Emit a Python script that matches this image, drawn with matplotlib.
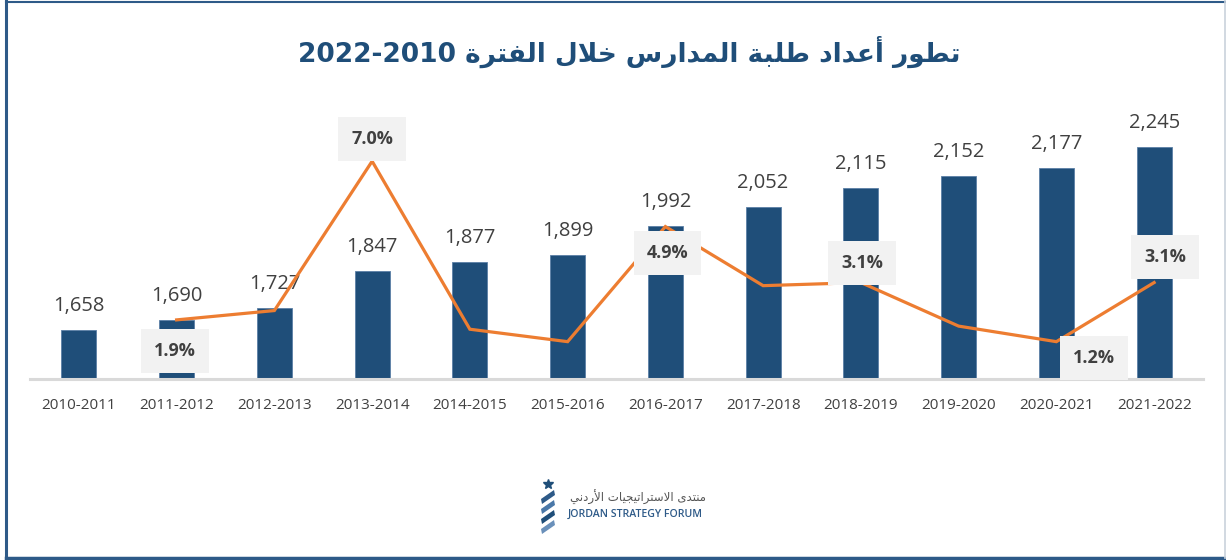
import matplotlib
matplotlib.use("Agg")
import matplotlib.pyplot as plt
from matplotlib.patches import Polygon
import numpy as np

# ---------------- data ----------------
years = ["2010-2011", "2011-2012", "2012-2013", "2013-2014", "2014-2015", "2015-2016",
         "2016-2017", "2017-2018", "2018-2019", "2019-2020", "2020-2021", "2021-2022"]
students = [1658, 1690, 1727, 1847, 1877, 1899, 1992, 2052, 2115, 2152, 2177, 2245]
growth = [np.nan, 1.9, 2.2, 7.0, 1.6, 1.2, 4.9, 3.0, 3.1, 1.7, 1.2, 3.1]
growth_labels = {1: "1.9%", 3: "7.0%", 6: "4.9%", 8: "3.1%", 10: "1.2%", 11: "3.1%"}
title_text = "تطور أعداد طلبة المدارس خلال الفترة 2022-2010"
logo_ar = "منتدى الاستراتيجيات الأردني"
logo_en = "JORDAN STRATEGY FORUM"

# ---------------- minimal Arabic shaping (presentation forms) ----------------
FORMS = {
    '\u0627': ('\uFE8D', '\uFE8E', None, None),
    '\u0623': ('\uFE83', '\uFE84', None, None),
    '\u0628': ('\uFE8F', '\uFE90', '\uFE91', '\uFE92'),
    '\u0629': ('\uFE93', '\uFE94', None, None),
    '\u062A': ('\uFE95', '\uFE96', '\uFE97', '\uFE98'),
    '\u062C': ('\uFE9D', '\uFE9E', '\uFE9F', '\uFEA0'),
    '\u062E': ('\uFEA5', '\uFEA6', '\uFEA7', '\uFEA8'),
    '\u062F': ('\uFEA9', '\uFEAA', None, None),
    '\u0631': ('\uFEAD', '\uFEAE', None, None),
    '\u0633': ('\uFEB1', '\uFEB2', '\uFEB3', '\uFEB4'),
    '\u0637': ('\uFEC1', '\uFEC2', '\uFEC3', '\uFEC4'),
    '\u0639': ('\uFEC9', '\uFECA', '\uFECB', '\uFECC'),
    '\u0641': ('\uFED1', '\uFED2', '\uFED3', '\uFED4'),
    '\u0644': ('\uFEDD', '\uFEDE', '\uFEDF', '\uFEE0'),
    '\u0645': ('\uFEE1', '\uFEE2', '\uFEE3', '\uFEE4'),
    '\u0646': ('\uFEE5', '\uFEE6', '\uFEE7', '\uFEE8'),
    '\u0648': ('\uFEED', '\uFEEE', None, None),
    '\u0649': ('\uFEEF', '\uFEF0', None, None),
    '\u064A': ('\uFEF1', '\uFEF2', '\uFEF3', '\uFEF4'),
    'LA': ('\uFEFB', '\uFEFC', None, None),
    'LAH': ('\uFEF7', '\uFEF8', None, None),
}


def shape_word(w):
    toks = []
    i = 0
    while i < len(w):
        c = w[i]
        if c == '\u0644' and i + 1 < len(w) and w[i + 1] in ('\u0627', '\u0623'):
            toks.append('LA' if w[i + 1] == '\u0627' else 'LAH')
            i += 2
        else:
            toks.append(c)
            i += 1
    out = []
    for k, t in enumerate(toks):
        f = FORMS.get(t)
        if f is None:
            out.append(t)
            continue
        prev = FORMS.get(toks[k - 1]) if k > 0 else None
        nxt = FORMS.get(toks[k + 1]) if k + 1 < len(toks) else None
        jp = prev is not None and prev[2] is not None
        jn = f[2] is not None and nxt is not None
        if jp and jn:
            out.append(f[3])
        elif jp:
            out.append(f[1])
        elif jn:
            out.append(f[2])
        else:
            out.append(f[0])
    return ''.join(out)


def ar(text):
    vis = []
    for w in text.split(' '):
        if any(ch in FORMS for ch in w):
            vis.append(shape_word(w)[::-1])
        else:
            vis.append(w)
    return ' '.join(vis[::-1])


# ---------------- figure ----------------
W, H = 1226, 560
fig = plt.figure(figsize=(W / 100, H / 100), dpi=100)
fig.patch.set_facecolor("white")

NAVY = "#1F4E79"
ORANGE = "#ED7D31"
GREY_TXT = "#404040"

ax = fig.add_axes([30 / W, (H - 379) / H, 1173 / W, 280 / H])
x = np.arange(len(years))
ax.bar(x, students, width=0.36, color=NAVY, edgecolor="#5b7fa6", linewidth=0.6, zorder=2)
ax.set_ylim(1500, 2400)
ax.set_xlim(-0.5, len(years) - 0.5)
for s in ax.spines.values():
    s.set_visible(False)
ax.set_yticks([])
ax.set_xticks(x)
ax.set_xticklabels(years, fontsize=11, color=GREY_TXT, family="Open Sans")
ax.tick_params(axis="x", length=0, pad=14)
ax.axhline(1500, color="#D9D9D9", linewidth=2.2, zorder=3, clip_on=False)

for xi, v in zip(x, students):
    ax.annotate(f"{v:,}", (xi, v), xytext=(0, 19), textcoords="offset pixels",
                ha="center", va="baseline", fontsize=14.5, color=GREY_TXT,
                family="Open Sans", zorder=1)

ax2 = ax.twinx()
ax2.set_ylim(0, 9)
for s in ax2.spines.values():
    s.set_visible(False)
ax2.set_yticks([])
ax2.plot(x, growth, color=ORANGE, linewidth=2.3, zorder=4, solid_joinstyle="miter")

offsets = {1: (-2, -31), 3: (0, 22), 6: (2, -26), 8: (1, 20), 10: (38, -16), 11: (11, 26)}
for i, lab in growth_labels.items():
    dx, dy = offsets[i]
    ax2.annotate(lab, (x[i], growth[i]), xytext=(dx, dy), textcoords="offset pixels",
                 ha="center", va="center", fontsize=13, fontweight="bold",
                 color=GREY_TXT, family="Open Sans", zorder=6,
                 bbox=dict(boxstyle="square,pad=0.72", facecolor="#F2F2F2", edgecolor="none"))

# title
fig.text(629 / W, 1 - 52 / H, ar(title_text), ha="center", va="center",
         fontsize=19, fontweight="bold", color=NAVY, family="DejaVu Sans")

# frame
fig.add_artist(plt.Line2D([6 / W, 6 / W], [2 / H, 1 - 1 / H], color="#2E5A88", linewidth=2.2,
                          transform=fig.transFigure))
fig.add_artist(plt.Line2D([6 / W, 1], [1 - 1.5 / H, 1 - 1.5 / H], color="#2E5A88", linewidth=1.5,
                          transform=fig.transFigure))
fig.add_artist(plt.Line2D([6 / W, 1], [2.5 / H, 2.5 / H], color="#2E5A88", linewidth=2.5,
                          transform=fig.transFigure))
fig.add_artist(plt.Line2D([1224.5 / W, 1224.5 / W], [2 / H, 1], color="#C9D2DC", linewidth=1.2,
                          transform=fig.transFigure))

# logo
lax = fig.add_axes([532 / W, (H - 535) / H, 30 / W, 60 / H])
lax.set_xlim(0, 30)
lax.set_ylim(60, 0)
lax.axis("off")
lax.plot([16], [9], marker="*", markersize=7, color=NAVY)
shades = ["#2E5A88", "#4A78A8", "#1F4E79", "#6A90BA"]
for k, yy in enumerate([18, 28, 38, 48]):
    poly = Polygon([[9, yy + 6], [22, yy - 3], [23, yy + 2], [10, yy + 11]],
                   closed=True, facecolor=shades[k % len(shades)], edgecolor="none")
    lax.add_patch(poly)

fig.text(706 / W, 1 - 497 / H, ar(logo_ar), ha="right", va="center", fontsize=8.5,
         color="#555555", family="DejaVu Sans")
fig.text(568 / W, 1 - 514 / H, logo_en, ha="left", va="center", fontsize=7.6,
         color="#2E5A88", family="Open Sans", fontweight="semibold")

fig.savefig("out.png", dpi=100)
